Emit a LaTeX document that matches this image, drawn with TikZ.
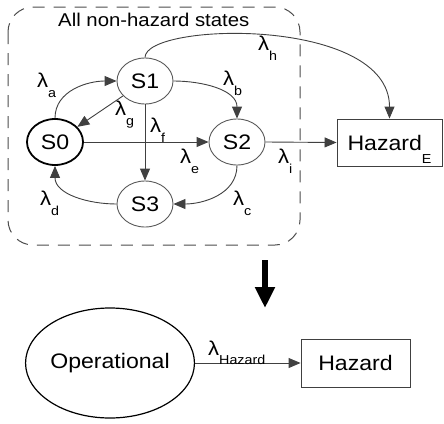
\documentclass[tikz,border=0pt]{standalone}
\usepackage{fontspec}
\setmainfont{Liberation Sans}[FakeStretch=1.1]
\usetikzlibrary{shapes.geometric,arrows.meta}

\newcommand{\lsub}[2][-10pt]{\raisebox{#1}[0pt][0pt]{\fontsize{13}{13}\selectfont #2}}

\begin{document}
\begin{tikzpicture}[
            x=1pt, y=1pt,
            state/.style={ellipse, draw=black!65, line width=0.9pt, minimum width=56pt, minimum height=46pt, inner sep=0pt, font=\fontsize{21}{24}\selectfont},
            box/.style={rectangle, draw=black!75, line width=0.9pt, align=center, inner sep=0pt, font=\fontsize{21}{24}\selectfont},
            arrow/.style={-{Triangle[length=12pt,width=10pt]}, draw=black!75, line width=0.9pt},
            lbl/.style={anchor=base west, inner sep=0pt, font=\fontsize{20}{22}\selectfont}
        ]
        \useasboundingbox (0,0) rectangle (444,-423);

        % Non-hazard region
        \draw[black!70, line width=1pt, dash pattern=on 12pt off 9pt, rounded corners=25pt] (8,-7) rectangle (300,-245);
        \node[anchor=base west, inner sep=0pt, font=\fontsize{18.5}{20}\selectfont] (title) at (58,-26) {All non-hazard states};

        % States
        \node[state, draw=black, line width=1.8pt] (s0) at (55,-142) {S0};
        \node[state] (s1) at (145,-81) {S1};
        \node[state] (s2) at (237,-142) {S2};
        \node[state] (s3) at (145,-204) {S3};

        % Hazard
        \node[box, minimum width=105pt, minimum height=47pt] (haze) at (389.5,-142.5) {Hazard\lsub[-13pt]{E}};

        % Transitions
        \draw[arrow] (s0.north) to[out=90, in=180] (s1.west);
        \draw[arrow] (s1) -- (s0);
        \draw[arrow] (s1.south) -- (s3.north);
        \draw[arrow] (s1.east) to[out=0, in=90] (s2.north);
        \draw[arrow] (s0.east) -- (s2.west);
        \draw[arrow] (s2.south) to[out=-90, in=0] (s3.east);
        \draw[arrow] (s3.west) to[out=180, in=-90] (s0.south);
        \draw[arrow] (s1.north) .. controls (145,-22) and (389.5,-16) .. (haze.north);
        \draw[arrow] (s2.east) -- (haze.west);

        % Rates
        \node[lbl] (la) at (37,-87) {λ\lsub{a}};
        \node[lbl] (lg) at (115,-115) {λ\lsub{g}};
        \node[lbl] (lf) at (150,-132) {λ\lsub{f}};
        \node[lbl] (lb) at (223,-85) {λ\lsub{b}};
        \node[lbl] (lh) at (258,-50) {λ\lsub{h}};
        \node[lbl] (le) at (180,-163) {λ\lsub{e}};
        \node[lbl] (li) at (278,-163) {λ\lsub{i}};
        \node[lbl] (lc) at (233,-205) {λ\lsub{c}};
        \node[lbl] (ld) at (40,-205) {λ\lsub{d}};

        % Reduced model
        \coordinate (top) at (265,-260);
        \coordinate (bot) at (265,-308);
        \draw[line width=6pt, -{Triangle[length=21pt,width=19pt]}] (top) -- (bot);

        \node[ellipse, draw=black, line width=1.2pt, inner sep=0pt, minimum width=165pt, minimum height=110pt, font=\fontsize{21}{24}\selectfont] (op) at (110,-363) {Operational};
        \node[box, minimum width=109pt, minimum height=48pt] (haz) at (355.5,-363) {Hazard};
        \draw[arrow] (op) -- (haz);
        \node[lbl] (lhaz) at (208,-355) {λ\lsub[-9pt]{Hazard}};

        \end{tikzpicture}
\end{document}
